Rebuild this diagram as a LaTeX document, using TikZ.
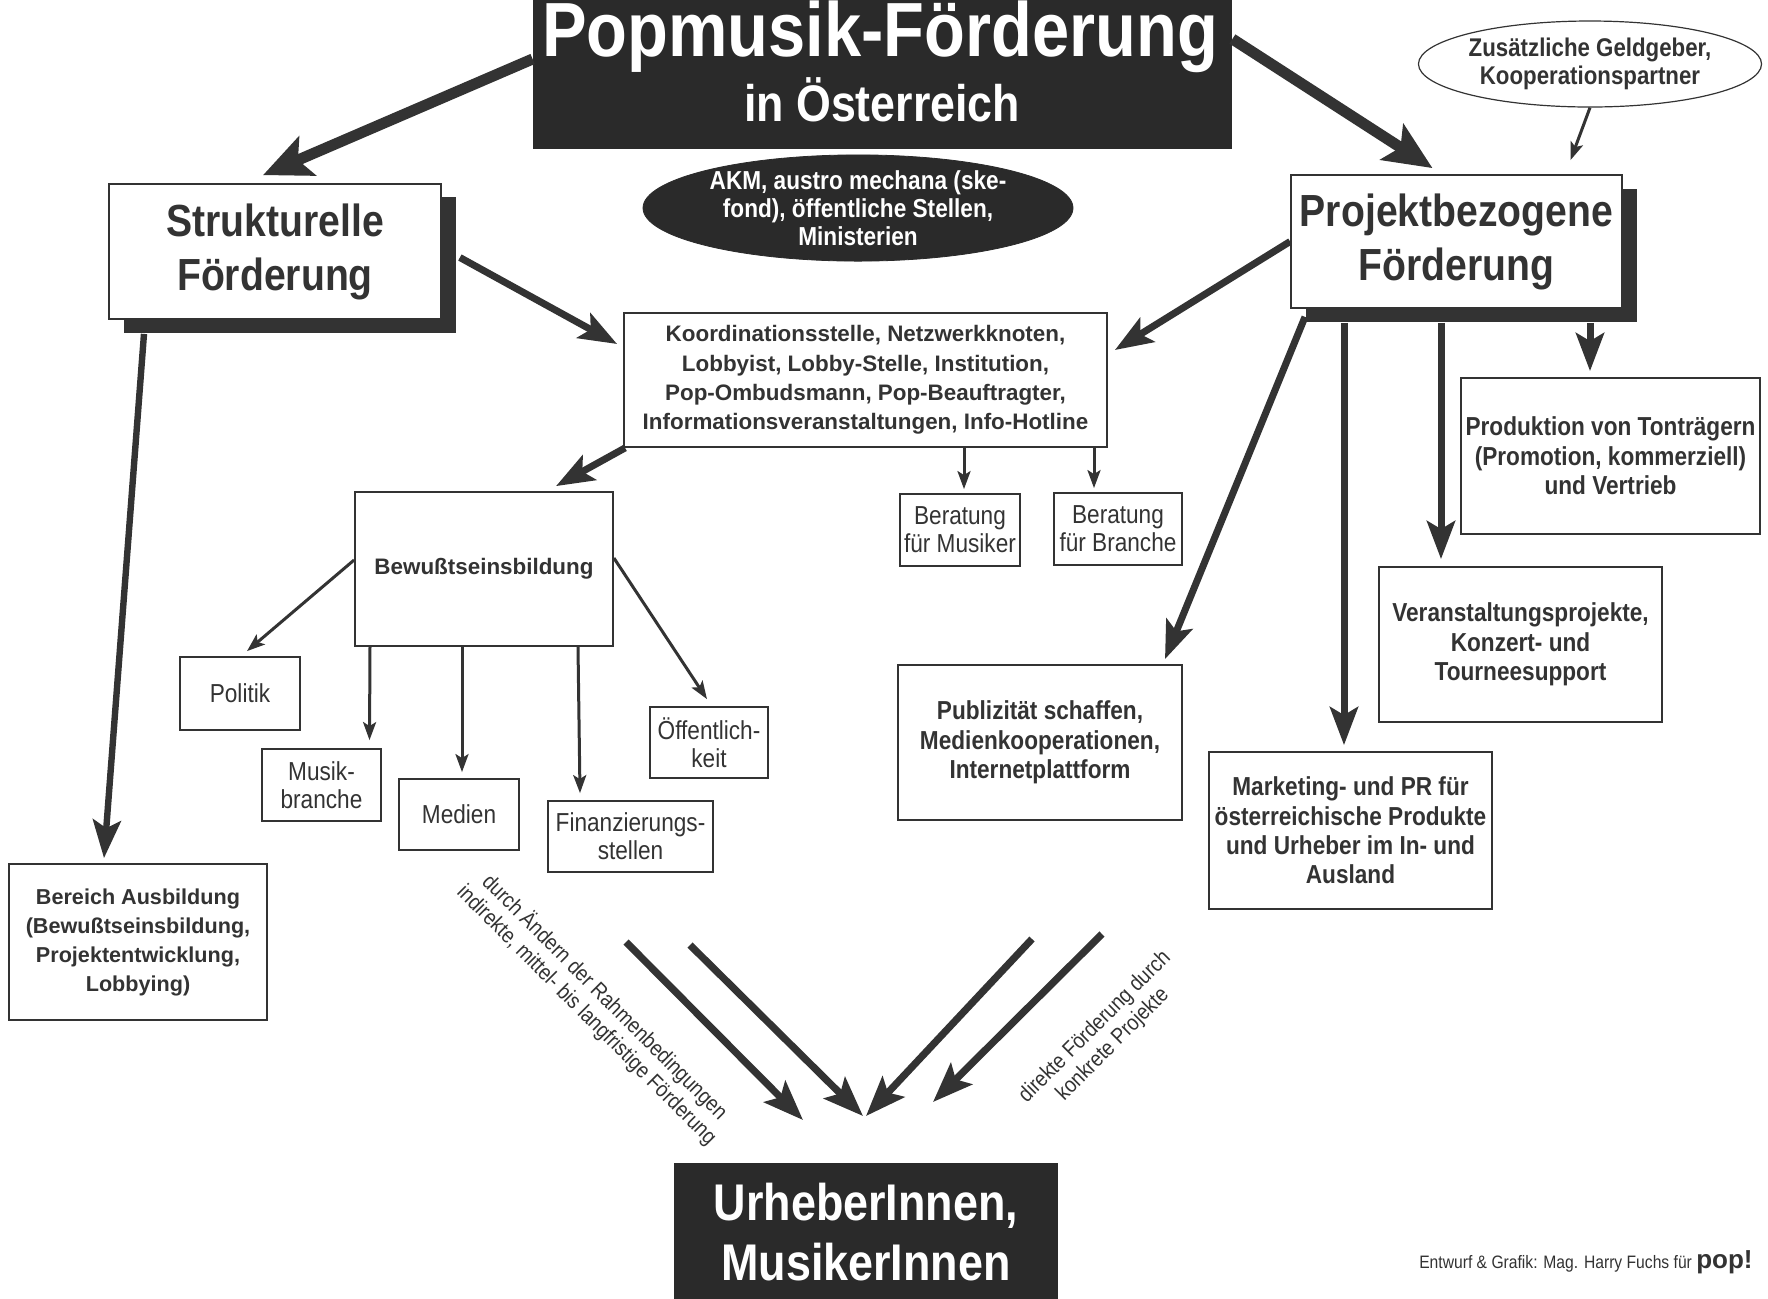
\documentclass[tikz,border=0pt]{standalone}
\usepackage{fontspec}
\setmainfont{Liberation Sans}
\newfontfamily\nar{Liberation Sans}[FakeStretch=0.87]
\usetikzlibrary{arrows.meta,shapes.geometric,calc}
\definecolor{ink}{HTML}{333333}
\definecolor{dark}{HTML}{2A2A2A}
\begin{document}
\begin{tikzpicture}[x=0.5pt,y=-0.5pt,
  box/.style={draw=ink, line width=0.9pt, fill=white, inner sep=0pt, align=center, text=ink},
  nb/.style={font=\nar\bfseries\fontsize{13}{14.7}\selectfont},
  wb/.style={font=\bfseries\fontsize{11.2}{14.6}\selectfont},
  nr/.style={font=\nar\fontsize{13}{14}\selectfont},
  big/.style={font=\nar\bfseries\fontsize{22.5}{27}\selectfont},
  arrL/.style={draw=ink, line width=5.5pt, -{Stealth[length=24pt,width=21pt,inset=5pt]}},
  arrM/.style={draw=ink, line width=3.5pt, -{Stealth[length=19pt,width=14pt,inset=4pt]}},
  arrS/.style={draw=ink, line width=1.5pt, -{Stealth[length=9pt,width=6.5pt,inset=2pt]}},
  arrV/.style={draw=ink, line width=3.6pt, -{Stealth[length=20pt,width=15pt,inset=4pt]}},
  lbl/.style={text=ink, align=center, inner sep=0pt, font=\nar\fontsize{11}{12.6}\selectfont}
]
\useasboundingbox[fill=white] (0,0) rectangle (1768,1298);

% ellipses
\node[ellipse, fill=dark, draw=dark, minimum width=215pt, minimum height=52pt, inner sep=0pt,
      text=white, align=center, font=\nar\bfseries\fontsize{13}{14}\selectfont] (akm) at (858,208)
  {AKM, austro mechana (ske-\\fond), öffentliche Stellen,\\Ministerien};
\node[ellipse, fill=white, draw=ink, line width=0.6pt, minimum width=155pt, minimum height=43pt, inner sep=0pt,
      text=ink, align=center, font=\nar\bfseries\fontsize{12.8}{14}\selectfont] (zus) at (1590,64)
  {Zusätzliche Geldgeber,\\Kooperationspartner};

% title
\node[fill=dark, minimum width=349.5pt, minimum height=74.5pt, inner sep=0pt] (title) at (882.5,74.5) {};
\node[anchor=base, text=white, inner sep=0pt, font=\nar\bfseries\fontsize{38.4}{40}\selectfont] (t1) at (880,56) {Popmusik-Förderung};
\node[anchor=base, text=white, inner sep=0pt, font=\nar\bfseries\fontsize{25.7}{28}\selectfont] (t2) at (882,121) {in Österreich};

% shadows
\fill[ink] (124,197) rectangle (456,333);
\fill[ink] (1306,189) rectangle (1637,322);

% main boxes
\node[box, big, minimum width=166pt, minimum height=67.5pt] (strukt) at (275,251.5) {Strukturelle\\Förderung};
\node[box, big, minimum width=165.5pt, minimum height=66.5pt] (projekt) at (1456.5,241.5) {Projektbezogene\\Förderung};
\node[box, wb, minimum width=241.5pt, minimum height=67pt] (koord) at (865.5,380)
  {Koordinationsstelle, Netzwerkknoten,\\Lobbyist, Lobby-Stelle, Institution,\\Pop-Ombudsmann, Pop-Beauftragter,\\Informationsveranstaltungen, Info-Hotline};
\node[box, font=\bfseries\fontsize{11.2}{13}\selectfont, minimum width=129pt, minimum height=77pt] (bew) at (484,569) {Bewußtseinsbildung};

\node[box, nr, minimum width=60pt, minimum height=36.5pt] (politik) at (240,693.5) {Politik};
\node[box, nr, minimum width=59.5pt, minimum height=36pt] (musik) at (321.5,785) {Musik-\\branche};
\node[box, nr, minimum width=60pt, minimum height=35.5pt] (medien) at (459,814.5) {Medien};
\node[box, nr, minimum width=82.5pt, minimum height=35.5pt] (finanz) at (630.5,836.5) {Finanzierungs-\\stellen};
\node[box, nr, minimum width=59pt, minimum height=35.5pt] (oeff) at (709,742.5) {Öffentlich-\\keit};
\node[box, nr, minimum width=60pt, minimum height=36pt] (bmus) at (960,530) {Beratung\\für Musiker};
\node[box, nr, minimum width=64pt, minimum height=36pt] (bbra) at (1118,529) {Beratung\\für Branche};

\node[box, nb, minimum width=149.5pt, minimum height=78pt] (prod) at (1610.5,456) {Produktion von Tonträgern\\(Promotion, kommerziell)\\und Vertrieb};
\node[box, nb, minimum width=141.5pt, minimum height=77.5pt] (veran) at (1520.5,644.5) {Veranstaltungsprojekte,\\Konzert- und\\Tourneesupport};
\node[box, nb, minimum width=142pt, minimum height=77.5pt] (publ) at (1040,742.5) {Publizität schaffen,\\Medienkooperationen,\\Internetplattform};
\node[box, nb, minimum width=141.5pt, minimum height=78.5pt] (mark) at (1350.5,830.5) {Marketing- und PR für\\österreichische Produkte\\und Urheber im In- und\\Ausland};
\node[box, wb, font=\bfseries\fontsize{10.8}{14.5}\selectfont, minimum width=129pt, minimum height=78pt] (ausb) at (138,942) {Bereich Ausbildung\\(Bewußtseinsbildung,\\Projektentwicklung,\\Lobbying)};

\node[fill=dark, text=white, inner sep=0pt, align=center, minimum width=192pt, minimum height=69pt,
      font=\nar\bfseries\fontsize{25.8}{30}\selectfont] (urh) at (866,1232) {UrheberInnen,\\MusikerInnen};

% arrows from title
\draw[arrL] ([yshift=7.75pt]title.west) -- ([xshift=-6pt,yshift=4pt]strukt.north);
\draw[arrL] ([yshift=17.75pt]title.east) -- ([xshift=-12pt,yshift=3pt]projekt.north);
\draw[arrS] (zus.south) -- ([xshift=57pt,yshift=7pt]projekt.north);

% to Koordination
\draw[arrM] ([xshift=9pt,yshift=-3pt]strukt.east) -- ([xshift=-3pt,yshift=18pt]koord.west);
\draw[arrM] (projekt.west) -- ([xshift=3.5pt,yshift=15pt]koord.east);
\draw[arrM] ([xshift=1pt]koord.south west) -- ([xshift=36pt,yshift=2.5pt]bew.north);
\draw[arrS] ([xshift=49.25pt]koord.south) -- ([xshift=2pt,yshift=2pt]bmus.north);
\draw[arrS] ([xshift=114.25pt]koord.south) -- ([xshift=-12pt,yshift=2pt]bbra.north);

% strukturelle down
\draw[arrM, line width=3.2pt] ([xshift=-65.5pt,yshift=-7pt]strukt.south) -- ([xshift=-17pt,yshift=2.5pt]ausb.north);

% Bewusstseinsbildung
\draw[arrS] ([yshift=4.5pt]bew.west) -- ([xshift=3.5pt,yshift=2.5pt]politik.north);
\draw[arrS] ([xshift=-57pt]bew.south) -- ([xshift=24pt,yshift=4pt]musik.north);
\draw[arrS] ([xshift=-11pt]bew.south) -- ([xshift=1.5pt,yshift=3pt]medien.north);
\draw[arrS] ([xshift=47pt]bew.south) -- ([xshift=-25.25pt,yshift=3.5pt]finanz.north);
\draw[arrS] ([yshift=5.5pt]bew.east) -- ([xshift=-1pt,yshift=3.5pt]oeff.north);

% Projektbezogene
\draw[arrM] ([xshift=-75.75pt,yshift=-4pt]projekt.south) -- ([xshift=62.5pt,yshift=2.5pt]publ.north);
\draw[arrM] ([xshift=-56.25pt,yshift=-7pt]projekt.south) -- ([xshift=-3.25pt,yshift=3pt]mark.north);
\draw[arrM] ([xshift=-7.75pt,yshift=-7pt]projekt.south) -- ([xshift=-39.75pt,yshift=3.5pt]veran.north);
\draw[arrM] ([xshift=66.75pt,yshift=-7pt]projekt.south) -- ([xshift=-10.25pt,yshift=3pt]prod.north);

% V arrows
\coordinate (v1s) at (626,942); \coordinate (v1e) at (803,1120);
\coordinate (v2s) at (690,945); \coordinate (v2e) at (863,1116);
\coordinate (v3s) at (1032,939); \coordinate (v3e) at (866,1116);
\coordinate (v4s) at (1102,934); \coordinate (v4e) at (933,1102);
\draw[arrV] (v1s) -- (v1e);
\draw[arrV] (v2s) -- (v2e);
\draw[arrV] (v3s) -- (v3e);
\draw[arrV] (v4s) -- (v4e);

\node[lbl, rotate=-45] (lblL) at (596,1006) {durch Ändern der Rahmenbedingungen\\indirekte, mittel- bis langfristige Förderung};
\node[lbl, rotate=45] (lblR) at (1104,1036) {direkte Förderung durch\\konkrete Projekte};

% footer
\node[anchor=base east, inner sep=0pt, text=ink] (foot) at (1753,1268)
  {{\nar\fontsize{9}{10}\selectfont Entwurf \& Grafik: Mag. Harry Fuchs für }{\bfseries\fontsize{13}{14}\selectfont pop!}};
\end{tikzpicture}
\end{document}
